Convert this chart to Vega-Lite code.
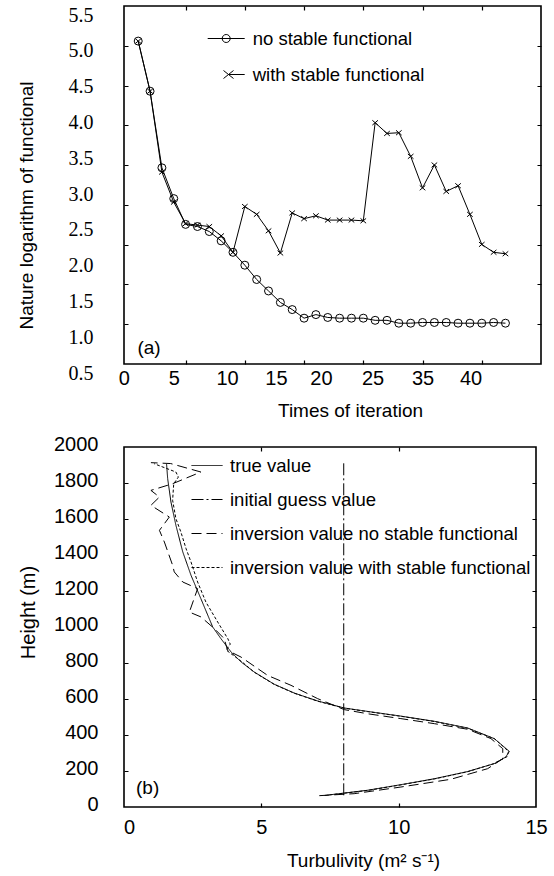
{
  "$schema": "https://vega.github.io/schema/vega-lite/v6.json",
  "background": "white",
  "padding": {"left": 16, "top": 4, "right": 4, "bottom": 4},
  "bounds": "flush",
  "spacing": 83,
  "resolve": {"legend": {"shape": "independent", "strokeDash": "independent"}},
  "config": {
    "view": {"stroke": "black", "strokeWidth": 1.6},
    "axis": {
      "domain": false,
      "ticks": false,
      "grid": false,
      "labelColor": "black",
      "titleColor": "black",
      "labelFont": "Liberation Sans",
      "titleFont": "Liberation Sans",
      "titleFontWeight": "normal",
      "titleFontSize": 19,
      "labelFontSize": 20,
      "gridColor": "black",
      "gridOpacity": 1,
      "gridWidth": 1.2
    },
    "legend": {
      "labelFont": "Liberation Sans",
      "labelFontSize": 18.5,
      "labelColor": "black",
      "labelLimit": 0,
      "padding": 0
    },
    "text": {"font": "Liberation Sans", "fontSize": 19, "color": "black"}
  },
  "datasets": {
    "functional": [
      {"series": "no stable functional", "iteration": 1, "lnJ": 5.01},
      {"series": "no stable functional", "iteration": 2, "lnJ": 4.31},
      {"series": "no stable functional", "iteration": 3, "lnJ": 3.24},
      {"series": "no stable functional", "iteration": 4, "lnJ": 2.81},
      {"series": "no stable functional", "iteration": 5, "lnJ": 2.45},
      {"series": "no stable functional", "iteration": 6, "lnJ": 2.42},
      {"series": "no stable functional", "iteration": 7, "lnJ": 2.35},
      {"series": "no stable functional", "iteration": 8, "lnJ": 2.22},
      {"series": "no stable functional", "iteration": 9, "lnJ": 2.06},
      {"series": "no stable functional", "iteration": 10, "lnJ": 1.88},
      {"series": "no stable functional", "iteration": 11, "lnJ": 1.68},
      {"series": "no stable functional", "iteration": 12, "lnJ": 1.52},
      {"series": "no stable functional", "iteration": 13, "lnJ": 1.36},
      {"series": "no stable functional", "iteration": 14, "lnJ": 1.26},
      {"series": "no stable functional", "iteration": 15, "lnJ": 1.14},
      {"series": "no stable functional", "iteration": 16, "lnJ": 1.19},
      {"series": "no stable functional", "iteration": 17, "lnJ": 1.15},
      {"series": "no stable functional", "iteration": 18, "lnJ": 1.14},
      {"series": "no stable functional", "iteration": 19, "lnJ": 1.14},
      {"series": "no stable functional", "iteration": 20, "lnJ": 1.14},
      {"series": "no stable functional", "iteration": 21, "lnJ": 1.11},
      {"series": "no stable functional", "iteration": 22, "lnJ": 1.11},
      {"series": "no stable functional", "iteration": 23, "lnJ": 1.07},
      {"series": "no stable functional", "iteration": 24, "lnJ": 1.07},
      {"series": "no stable functional", "iteration": 25, "lnJ": 1.08},
      {"series": "no stable functional", "iteration": 26, "lnJ": 1.08},
      {"series": "no stable functional", "iteration": 27, "lnJ": 1.08},
      {"series": "no stable functional", "iteration": 28, "lnJ": 1.07},
      {"series": "no stable functional", "iteration": 29, "lnJ": 1.07},
      {"series": "no stable functional", "iteration": 30, "lnJ": 1.07},
      {"series": "no stable functional", "iteration": 31, "lnJ": 1.08},
      {"series": "no stable functional", "iteration": 32, "lnJ": 1.07},
      {"series": "with stable functional", "iteration": 1, "lnJ": 5.01},
      {"series": "with stable functional", "iteration": 2, "lnJ": 4.31},
      {"series": "with stable functional", "iteration": 3, "lnJ": 3.18},
      {"series": "with stable functional", "iteration": 4, "lnJ": 2.76},
      {"series": "with stable functional", "iteration": 5, "lnJ": 2.46},
      {"series": "with stable functional", "iteration": 6, "lnJ": 2.44},
      {"series": "with stable functional", "iteration": 7, "lnJ": 2.42},
      {"series": "with stable functional", "iteration": 8, "lnJ": 2.29},
      {"series": "with stable functional", "iteration": 9, "lnJ": 2.06},
      {"series": "with stable functional", "iteration": 10, "lnJ": 2.70},
      {"series": "with stable functional", "iteration": 11, "lnJ": 2.59},
      {"series": "with stable functional", "iteration": 12, "lnJ": 2.36},
      {"series": "with stable functional", "iteration": 13, "lnJ": 2.05},
      {"series": "with stable functional", "iteration": 14, "lnJ": 2.61},
      {"series": "with stable functional", "iteration": 15, "lnJ": 2.53},
      {"series": "with stable functional", "iteration": 16, "lnJ": 2.57},
      {"series": "with stable functional", "iteration": 17, "lnJ": 2.51},
      {"series": "with stable functional", "iteration": 18, "lnJ": 2.51},
      {"series": "with stable functional", "iteration": 19, "lnJ": 2.51},
      {"series": "with stable functional", "iteration": 20, "lnJ": 2.50},
      {"series": "with stable functional", "iteration": 21, "lnJ": 3.87},
      {"series": "with stable functional", "iteration": 22, "lnJ": 3.72},
      {"series": "with stable functional", "iteration": 23, "lnJ": 3.73},
      {"series": "with stable functional", "iteration": 24, "lnJ": 3.40},
      {"series": "with stable functional", "iteration": 25, "lnJ": 2.96},
      {"series": "with stable functional", "iteration": 26, "lnJ": 3.28},
      {"series": "with stable functional", "iteration": 27, "lnJ": 2.91},
      {"series": "with stable functional", "iteration": 28, "lnJ": 2.99},
      {"series": "with stable functional", "iteration": 29, "lnJ": 2.59},
      {"series": "with stable functional", "iteration": 30, "lnJ": 2.17},
      {"series": "with stable functional", "iteration": 31, "lnJ": 2.06},
      {"series": "with stable functional", "iteration": 32, "lnJ": 2.04}
    ],
    "profile": [
      {"series": "true value", "turb": 7.4, "h": 66},
      {"series": "true value", "turb": 8.87, "h": 93},
      {"series": "true value", "turb": 10.08, "h": 124},
      {"series": "true value", "turb": 11.3, "h": 157},
      {"series": "true value", "turb": 12.51, "h": 197},
      {"series": "true value", "turb": 13.48, "h": 241},
      {"series": "true value", "turb": 13.9, "h": 278},
      {"series": "true value", "turb": 14.03, "h": 309},
      {"series": "true value", "turb": 13.48, "h": 380},
      {"series": "true value", "turb": 12.51, "h": 439},
      {"series": "true value", "turb": 11.3, "h": 476},
      {"series": "true value", "turb": 10.08, "h": 505},
      {"series": "true value", "turb": 8.87, "h": 531},
      {"series": "true value", "turb": 8.02, "h": 550},
      {"series": "true value", "turb": 7.05, "h": 589},
      {"series": "true value", "turb": 6.2, "h": 633},
      {"series": "true value", "turb": 5.47, "h": 682},
      {"series": "true value", "turb": 4.74, "h": 750},
      {"series": "true value", "turb": 4.26, "h": 806},
      {"series": "true value", "turb": 3.9, "h": 861},
      {"series": "true value", "turb": 3.53, "h": 935},
      {"series": "true value", "turb": 3.23, "h": 1000},
      {"series": "true value", "turb": 2.8, "h": 1157},
      {"series": "true value", "turb": 2.44, "h": 1287},
      {"series": "true value", "turb": 2.14, "h": 1417},
      {"series": "true value", "turb": 1.89, "h": 1565},
      {"series": "true value", "turb": 1.71, "h": 1694},
      {"series": "true value", "turb": 1.59, "h": 1824},
      {"series": "true value", "turb": 1.55, "h": 1905},
      {"series": "initial guess value", "turb": 8, "h": 65},
      {"series": "initial guess value", "turb": 8, "h": 1913},
      {"series": "inversion value no stable functional", "turb": 7.11, "h": 63},
      {"series": "inversion value no stable functional", "turb": 8.38, "h": 74},
      {"series": "inversion value no stable functional", "turb": 10.08, "h": 111},
      {"series": "inversion value no stable functional", "turb": 11.9, "h": 154},
      {"series": "inversion value no stable functional", "turb": 13.24, "h": 213},
      {"series": "inversion value no stable functional", "turb": 13.79, "h": 268},
      {"series": "inversion value no stable functional", "turb": 13.79, "h": 324},
      {"series": "inversion value no stable functional", "turb": 13.36, "h": 380},
      {"series": "inversion value no stable functional", "turb": 12.51, "h": 432},
      {"series": "inversion value no stable functional", "turb": 11.3, "h": 463},
      {"series": "inversion value no stable functional", "turb": 10.08, "h": 491},
      {"series": "inversion value no stable functional", "turb": 8.87, "h": 518},
      {"series": "inversion value no stable functional", "turb": 8.02, "h": 541},
      {"series": "inversion value no stable functional", "turb": 7.05, "h": 602},
      {"series": "inversion value no stable functional", "turb": 6.08, "h": 676},
      {"series": "inversion value no stable functional", "turb": 5.23, "h": 731},
      {"series": "inversion value no stable functional", "turb": 4.26, "h": 833},
      {"series": "inversion value no stable functional", "turb": 3.77, "h": 870},
      {"series": "inversion value no stable functional", "turb": 3.65, "h": 935},
      {"series": "inversion value no stable functional", "turb": 3.29, "h": 991},
      {"series": "inversion value no stable functional", "turb": 2.8, "h": 1056},
      {"series": "inversion value no stable functional", "turb": 2.38, "h": 1083},
      {"series": "inversion value no stable functional", "turb": 2.68, "h": 1213},
      {"series": "inversion value no stable functional", "turb": 2.14, "h": 1250},
      {"series": "inversion value no stable functional", "turb": 1.83, "h": 1306},
      {"series": "inversion value no stable functional", "turb": 1.77, "h": 1343},
      {"series": "inversion value no stable functional", "turb": 1.47, "h": 1472},
      {"series": "inversion value no stable functional", "turb": 1.29, "h": 1537},
      {"series": "inversion value no stable functional", "turb": 1.65, "h": 1611},
      {"series": "inversion value no stable functional", "turb": 0.98, "h": 1676},
      {"series": "inversion value no stable functional", "turb": 1.29, "h": 1722},
      {"series": "inversion value no stable functional", "turb": 0.98, "h": 1759},
      {"series": "inversion value no stable functional", "turb": 1.77, "h": 1796},
      {"series": "inversion value no stable functional", "turb": 2.8, "h": 1861},
      {"series": "inversion value no stable functional", "turb": 1.7, "h": 1908},
      {"series": "inversion value no stable functional", "turb": 0.98, "h": 1913},
      {"series": "inversion value with stable functional", "turb": 7.3, "h": 64},
      {"series": "inversion value with stable functional", "turb": 8.87, "h": 92},
      {"series": "inversion value with stable functional", "turb": 10.08, "h": 123},
      {"series": "inversion value with stable functional", "turb": 11.3, "h": 156},
      {"series": "inversion value with stable functional", "turb": 12.51, "h": 196},
      {"series": "inversion value with stable functional", "turb": 13.45, "h": 240},
      {"series": "inversion value with stable functional", "turb": 13.95, "h": 280},
      {"series": "inversion value with stable functional", "turb": 14.0, "h": 309},
      {"series": "inversion value with stable functional", "turb": 13.5, "h": 378},
      {"series": "inversion value with stable functional", "turb": 12.5, "h": 438},
      {"series": "inversion value with stable functional", "turb": 11.3, "h": 475},
      {"series": "inversion value with stable functional", "turb": 10.08, "h": 504},
      {"series": "inversion value with stable functional", "turb": 8.87, "h": 530},
      {"series": "inversion value with stable functional", "turb": 8.02, "h": 549},
      {"series": "inversion value with stable functional", "turb": 7.05, "h": 588},
      {"series": "inversion value with stable functional", "turb": 6.2, "h": 632},
      {"series": "inversion value with stable functional", "turb": 5.47, "h": 681},
      {"series": "inversion value with stable functional", "turb": 4.74, "h": 749},
      {"series": "inversion value with stable functional", "turb": 4.3, "h": 806},
      {"series": "inversion value with stable functional", "turb": 4.0, "h": 840},
      {"series": "inversion value with stable functional", "turb": 3.72, "h": 872},
      {"series": "inversion value with stable functional", "turb": 3.87, "h": 905},
      {"series": "inversion value with stable functional", "turb": 3.78, "h": 935},
      {"series": "inversion value with stable functional", "turb": 3.41, "h": 1028},
      {"series": "inversion value with stable functional", "turb": 2.98, "h": 1139},
      {"series": "inversion value with stable functional", "turb": 2.68, "h": 1250},
      {"series": "inversion value with stable functional", "turb": 2.44, "h": 1361},
      {"series": "inversion value with stable functional", "turb": 2.26, "h": 1435},
      {"series": "inversion value with stable functional", "turb": 2.07, "h": 1528},
      {"series": "inversion value with stable functional", "turb": 1.89, "h": 1602},
      {"series": "inversion value with stable functional", "turb": 1.77, "h": 1704},
      {"series": "inversion value with stable functional", "turb": 1.81, "h": 1796},
      {"series": "inversion value with stable functional", "turb": 1.98, "h": 1833},
      {"series": "inversion value with stable functional", "turb": 1.89, "h": 1861},
      {"series": "inversion value with stable functional", "turb": 1.1, "h": 1907}
    ]
  },
  "vconcat": [
    {
      "width": 417,
      "height": 358,
      "data": {"name": "functional"},
      "layer": [
        {
          "mark": {"type": "line", "color": "black", "strokeWidth": 1},
          "encoding": {
            "x": {
              "field": "iteration",
              "type": "quantitative",
              "scale": {"domain": [-0.2, 35], "nice": false, "zero": false},
              "axis": {
                "orient": "bottom",
                "values": [0.03, 4.25, 8.75, 12.88, 16.68, 21.04, 25.26, 29.31],
                "labelExpr": "['0','5','10','15','20','25','35','40'][round(datum.value / 4.2)]",
                "labelOffset": -3,
                "labelFlush": false,
                "labelPadding": 14,
                "labelBaseline": "middle",
                "title": "Times of iteration",
                "titleX": 226,
                "titleY": 46,
                "titleAlign": "center",
                "titleBaseline": "middle"
              }
            },
            "y": {
              "field": "lnJ",
              "type": "quantitative",
              "scale": {"domain": [0.5, 5.5], "nice": false, "zero": false},
              "axis": {
                "orient": "left",
                "values": [0.5, 1, 1.5, 2, 2.5, 3, 3.5, 4, 4.5, 5, 5.5],
                "format": ".1f",
                "labelFont": "Liberation Serif",
                "labelFontSize": 20,
                "labelOffset": 9,
                "labelPadding": 31,
                "labelBaseline": "middle",
                "title": "Nature logarithm of functional",
                "titleX": -98,
                "titleY": 199,
                "titleAlign": "center",
                "titleBaseline": "middle"
              }
            },
            "detail": {"field": "series"}
          }
        },
        {
          "mark": {"type": "point", "filled": false, "color": "black", "strokeWidth": 1, "opacity": 1, "size": 64},
          "encoding": {
            "x": {"field": "iteration", "type": "quantitative", "axis": null},
            "y": {"field": "lnJ", "type": "quantitative", "axis": null},
            "shape": {
              "field": "series",
              "scale": {
                "domain": ["no stable functional", "with stable functional"],
                "range": ["circle", "M-0.7,-0.6L0.7,0.6M-0.7,0.6L0.7,-0.6"]
              },
              "legend": null
            }
          }
        },
        {
          "transform": [{"filter": "false"}],
          "mark": {"type": "point", "filled": false, "color": "black", "strokeWidth": 1, "opacity": 1, "size": 400},
          "encoding": {
            "shape": {
              "field": "series",
              "scale": {
                "domain": ["no stable functional", "with stable functional"],
                "range": [
                  "M-1.85,0L1.85,0M0.4,0A0.4,0.4,0,1,1,-0.4,0A0.4,0.4,0,1,1,0.4,0",
                  "M-0.27,-0.4L0.73,0.4M-0.27,0.4L0.73,-0.4M0.23,0L1.85,0"
                ]
              },
              "legend": {
                "orient": "none",
                "legendX": 91.7,
                "legendY": 22,
                "title": null,
                "symbolSize": 400,
                "symbolStrokeWidth": 1,
                "symbolStrokeColor": "black",
                "labelOffset": 16,
                "rowPadding": 16
              }
            }
          }
        },
        {
          "data": {"values": [{"panel": "a"}]},
          "mark": {"type": "text", "align": "center", "baseline": "middle"},
          "encoding": {
            "text": {"value": "(a)"},
            "x": {
              "datum": 1.91,
              "type": "quantitative",
              "axis": {
                "orient": "top",
                "values": [5, 10, 15, 20, 25, 30],
                "labels": false,
                "title": null,
                "grid": true,
                "gridDash": [4, 350, 4, 1000]
              }
            },
            "y": {
              "datum": 0.72,
              "type": "quantitative",
              "axis": {
                "orient": "right",
                "values": [1.0556, 1.6111, 2.1667, 2.7222, 3.2778, 3.8333, 4.3889, 4.9444],
                "labels": false,
                "title": null,
                "grid": true,
                "gridDash": [4, 409, 4, 1000]
              }
            }
          }
        }
      ],
      "resolve": {
        "scale": {"shape": "independent"},
        "axis": {"x": "independent", "y": "independent"}
      }
    },
    {
      "width": 412,
      "height": 360,
      "data": {"name": "profile"},
      "layer": [
        {
          "mark": {"type": "line", "color": "black", "strokeWidth": 1},
          "encoding": {
            "x": {
              "field": "turb",
              "type": "quantitative",
              "scale": {"domain": [0, 15], "nice": false, "zero": false},
              "axis": {
                "orient": "bottom",
                "values": [0.18, 5, 10, 15],
                "format": ".0f",
                "labelFlush": false,
                "labelPadding": 20,
                "labelBaseline": "middle",
                "title": "Turbulivity (m² s⁻¹)",
                "titleX": 239,
                "titleY": 53,
                "titleAlign": "center",
                "titleBaseline": "middle"
              }
            },
            "y": {
              "field": "h",
              "type": "quantitative",
              "scale": {"domain": [0, 2000], "nice": false, "zero": false},
              "axis": {
                "orient": "left",
                "values": [0, 200, 400, 600, 800, 1000, 1200, 1400, 1600, 1800, 2000],
                "format": "d",
                "labelOffset": -3,
                "labelPadding": 26,
                "labelBaseline": "middle",
                "title": "Height (m)",
                "titleFontSize": 20,
                "titleX": -96,
                "titleY": 165,
                "titleAlign": "center",
                "titleBaseline": "middle"
              }
            },
            "order": {"field": "h", "type": "quantitative"},
            "strokeDash": {
              "field": "series",
              "type": "nominal",
              "scale": {
                "domain": ["true value", "initial guess value", "inversion value no stable functional", "inversion value with stable functional"],
                "range": [[1, 0], [12, 3, 2, 3], [10, 5], [3, 2]]
              },
              "legend": {
                "orient": "none",
                "legendX": 67,
                "legendY": 2.5,
                "title": null,
                "symbolType": "stroke",
                "symbolSize": 961,
                "symbolStrokeWidth": 1,
                "symbolStrokeColor": "black",
                "labelOffset": 7,
                "rowPadding": 8
              }
            }
          }
        },
        {
          "data": {"values": [{"panel": "b"}]},
          "mark": {"type": "text", "align": "center", "baseline": "middle"},
          "encoding": {
            "text": {"value": "(b)"},
            "x": {
              "datum": 0.86,
              "type": "quantitative",
              "axis": {
                "orient": "top",
                "values": [5, 10],
                "labels": false,
                "title": null,
                "grid": true,
                "gridDash": [4, 352, 4, 1000]
              }
            },
            "y": {
              "datum": 106,
              "type": "quantitative",
              "axis": {
                "orient": "right",
                "values": [200, 400, 600, 800, 1000, 1200, 1400, 1600, 1800],
                "labels": false,
                "title": null,
                "grid": true,
                "gridDash": [4, 404, 4, 1000]
              }
            }
          }
        }
      ],
      "resolve": {"axis": {"x": "independent", "y": "independent"}}
    }
  ]
}
